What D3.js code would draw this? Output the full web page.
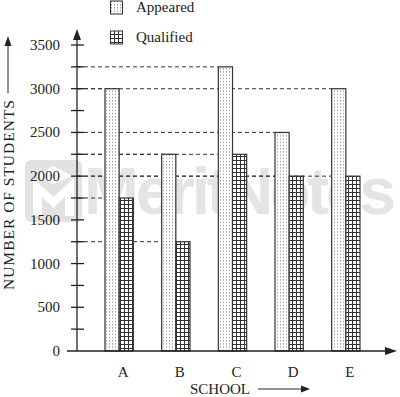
<!DOCTYPE html>
<html>
<head>
<meta charset="utf-8">
<script src="https://cdn.jsdelivr.net/npm/d3@7"></script>
<style>
  body { margin: 0; background: #fff; }
  svg { font-family: "Liberation Serif", "DejaVu Serif", serif; }
</style>
</head>
<body>
<svg id="chart" width="400" height="397"></svg>
<script>
// data
const schools = ["A", "B", "C", "D", "E"];
const appeared = [3000, 2250, 3250, 2500, 3000];
const qualified = [1750, 1250, 2250, 2000, 2000];
const yTicks = [0, 500, 1000, 1500, 2000, 2500, 3000, 3500];
const seriesNames = ["Appeared", "Qualified"];

const svg = d3.select("#chart");
const left = 77, bottom = 351;

const x = d3.scaleBand().domain(schools).range([105, 360]).paddingInner(0.5).paddingOuter(0);
const y = d3.scaleLinear().domain([0, 3500]).range([bottom, 45]);

// patterns
const defs = svg.append("defs");
const dots = defs.append("pattern").attr("id", "dots")
  .attr("patternUnits", "userSpaceOnUse").attr("width", 3).attr("height", 3.2);
dots.append("rect").attr("width", 3).attr("height", 3.2).attr("fill", "#fff");
dots.append("rect").attr("x", 1).attr("y", 1).attr("width", 1).attr("height", 1).attr("fill", "#777");

const grid = defs.append("pattern").attr("id", "grid")
  .attr("patternUnits", "userSpaceOnUse").attr("width", 4).attr("height", 4);
grid.append("rect").attr("width", 4).attr("height", 4).attr("fill", "#fff");
grid.append("path").attr("d", "M0,0.5H4M0.5,0V4").attr("stroke", "#333").attr("stroke-width", 1);

// watermark (logo drawn as a shape, name as text)
const wm = svg.append("g");
wm.append("rect").attr("x", 25).attr("y", 160).attr("width", 57).attr("height", 62).attr("rx", 6)
  .attr("fill", "#e2e2e2");
wm.append("path").attr("d", "M33,216V178L53.5,197L74,178V216H65V197L53.5,208L42,197V216Z")
  .attr("fill", "#fff");
wm.append("path").attr("d", "M35,176L53.5,166L72,176L53.5,184Z").attr("fill", "#fff");
wm.append("text").attr("x", 84).attr("y", 214).attr("textLength", 312)
  .attr("font-family", "Liberation Sans, Arial, sans-serif").attr("font-weight", "bold")
  .attr("font-size", 66).attr("fill", "#e4e4e4").text("MeritNotes");

// dashed reference lines from the axis to each bar top
const bw = x.bandwidth() / 2;
const refs = [];
schools.forEach((s, i) => {
  refs.push({v: appeared[i], x2: x(s)});
  refs.push({v: qualified[i], x2: x(s) + bw});
});
svg.append("g").selectAll("line").data(refs).join("line")
  .attr("x1", left).attr("x2", d => d.x2)
  .attr("y1", d => y(d.v)).attr("y2", d => y(d.v))
  .attr("stroke", "#333").attr("stroke-width", 1).attr("stroke-dasharray", "4,3");

// bars
const bars = svg.append("g");
bars.selectAll(".app").data(schools).join("rect").attr("class", "app")
  .attr("x", s => x(s)).attr("width", bw)
  .attr("y", (s, i) => y(appeared[i])).attr("height", (s, i) => bottom - y(appeared[i]))
  .attr("fill", "url(#dots)").attr("stroke", "#333").attr("stroke-width", 1.2);
bars.selectAll(".qual").data(schools).join("rect").attr("class", "qual")
  .attr("x", s => x(s) + bw).attr("width", bw)
  .attr("y", (s, i) => y(qualified[i])).attr("height", (s, i) => bottom - y(qualified[i]))
  .attr("fill", "url(#grid)").attr("stroke", "#333").attr("stroke-width", 1.2);

// y axis with ticks on both sides, minor ticks every 250
const yAxis = svg.append("g");
yAxis.append("line").attr("x1", left).attr("x2", left).attr("y1", bottom).attr("y2", 32)
  .attr("stroke", "#222").attr("stroke-width", 1.3);
yAxis.append("path").attr("d", `M${left - 4},${40}L${left},${29}L${left + 4},${40}Z`).attr("fill", "#222");
yAxis.selectAll(".tk").data(d3.range(250, 3501, 250)).join("line").attr("class", "tk")
  .attr("x1", left - 6).attr("x2", left + 7)
  .attr("y1", d => y(d)).attr("y2", d => y(d)).attr("stroke", "#222").attr("stroke-width", 1.3);
yAxis.selectAll("text").data(yTicks).join("text")
  .attr("x", 60).attr("y", d => y(d) + 5).attr("text-anchor", "end")
  .attr("font-size", 15).attr("fill", "#222").text(d => d);

// x axis
const xAxis = svg.append("g");
xAxis.append("line").attr("x1", left - 10).attr("x2", 390).attr("y1", bottom).attr("y2", bottom)
  .attr("stroke", "#222").attr("stroke-width", 1.3);
xAxis.append("path").attr("d", `M385,${bottom - 4}L397,${bottom}L385,${bottom + 4}Z`).attr("fill", "#222");
xAxis.selectAll("text").data(schools).join("text")
  .attr("x", s => x(s) + bw + 4).attr("y", 377).attr("text-anchor", "middle")
  .attr("font-size", 15).attr("fill", "#222").text(s => s);

// axis titles
svg.append("text").attr("x", 190).attr("y", 394).attr("font-size", 15).attr("fill", "#222").text("SCHOOL");
svg.append("line").attr("x1", 258).attr("x2", 305).attr("y1", 389).attr("y2", 389).attr("stroke", "#222");
svg.append("path").attr("d", "M301,385.5L310,389L301,392.5Z").attr("fill", "#222");

const yt = svg.append("g").attr("transform", "translate(14,290) rotate(-90)");
yt.append("text").attr("x", 0).attr("y", 0).attr("font-size", 15.5).attr("fill", "#222")
  .attr("textLength", 190).text("NUMBER OF STUDENTS");
yt.append("line").attr("x1", 197).attr("x2", 248).attr("y1", -6).attr("y2", -6).attr("stroke", "#222");
yt.append("path").attr("d", "M244,-9.5L254,-6L244,-2.5Z").attr("fill", "#222");

// legend
const legend = svg.append("g").selectAll("g").data(seriesNames).join("g")
  .attr("transform", (d, i) => `translate(110,${i * 30})`);
legend.append("rect").attr("x", 0.5).attr("y", 1).attr("width", 12).attr("height", 13)
  .attr("fill", (d, i) => i ? "url(#grid)" : "url(#dots)").attr("stroke", "#333");
legend.append("text").attr("x", 26).attr("y", 12).attr("font-size", 15).attr("fill", "#222").text(d => d);
</script>
</body>
</html>
